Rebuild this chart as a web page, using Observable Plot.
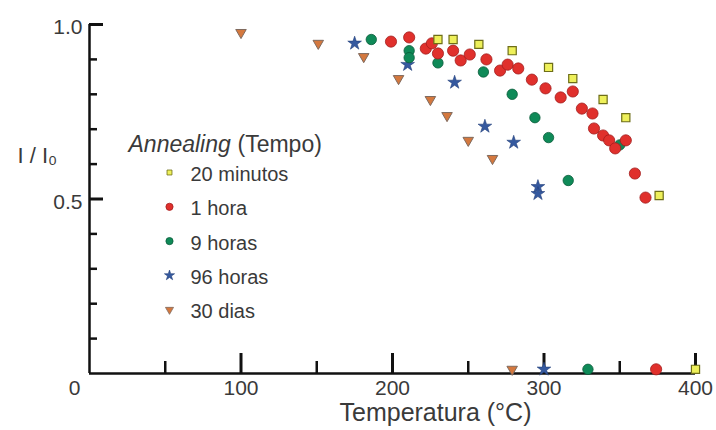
<!DOCTYPE html>
<html>
<head>
<meta charset="utf-8">
<script src="https://cdn.jsdelivr.net/npm/d3@7"></script>
<script src="https://cdn.jsdelivr.net/npm/@observablehq/plot@0.6"></script>
<style>
  body { margin: 0; background: #fff; }
  #chart { width: 716px; height: 430px; }
</style>
</head>
<body>
<div id="chart"></div>
<script>
// ---- data ----
const min20Temp = [230, 240, 257, 279, 303, 319, 339, 354, 376, 400];
const min20Ratio = [0.957, 0.957, 0.943, 0.925, 0.877, 0.845, 0.785, 0.733, 0.51, 0.012];

const hora1Temp = [199, 211, 222, 226, 230, 240, 245, 251, 262, 271, 276, 283, 292, 301, 311, 319, 325, 332, 333, 339, 343, 347, 354, 360, 367, 374];
const hora1Ratio = [0.951, 0.963, 0.931, 0.946, 0.917, 0.925, 0.897, 0.914, 0.90, 0.868, 0.885, 0.874, 0.842, 0.817, 0.791, 0.808, 0.759, 0.745, 0.702, 0.682, 0.668, 0.645, 0.668, 0.573, 0.504, 0.012];

const horas9Temp = [186, 211, 211, 230, 260, 279, 294, 303, 316, 329, 350];
const horas9Ratio = [0.957, 0.925, 0.905, 0.89, 0.864, 0.80, 0.733, 0.676, 0.553, 0.012, 0.655];

const horas96Temp = [175, 210, 241, 261, 280, 296, 296, 300];
const horas96Ratio = [0.946, 0.885, 0.834, 0.708, 0.662, 0.535, 0.515, 0.012];

const dias30Temp = [100, 151, 181, 204, 225, 236, 250, 266, 279];
const dias30Ratio = [0.977, 0.946, 0.908, 0.845, 0.785, 0.739, 0.668, 0.616, 0.012];

const legendLabels = ["20 minutos", "1 hora", "9 horas", "96 horas", "30 dias"];
const legendTitleItalic = "Annealing";
const legendTitleRest = "(Tempo)";

const xTickValues = [0, 100, 200, 300, 400];
const xTickLabels = ["0", "100", "200", "300", "400"];
const xMajorTicks = [100, 200, 300, 400];
const xMinorTicks = [50, 150, 250, 350];
const yTickValues = [0.5, 1.0];
const yTickLabels = ["0.5", "1.0"];
const yMajorTicks = [0.5, 1.0];
const yMinorTicks = [0.1, 0.2, 0.3, 0.4, 0.6, 0.7, 0.8, 0.9];
const xTitle = "Temperatura (°C)";
const yTitle = "I / I₀";

// ---- helpers ----
const pts = (t, v) => t.map((x, i) => ({x, y: v[i]}));
const triangleDown = {
  draw(context, size) {
    const s = Math.sqrt(4 * size / Math.sqrt(3));
    const h = s * Math.sqrt(3) / 2;
    context.moveTo(0, 2 * h / 3);
    context.lineTo(-s / 2, -h / 3);
    context.lineTo(s / 2, -h / 3);
    context.closePath();
  }
};

const styles = [
  {data: pts(min20Temp, min20Ratio), symbol: "square", fill: "#eef05a", stroke: "#6e6e18", strokeWidth: 1.2, r: 4.6, lr: 2.8},
  {data: pts(hora1Temp, hora1Ratio), symbol: "circle", fill: "#e0302c", stroke: "#a21d1d", strokeWidth: 0.8, r: 5.6, lr: 3.6},
  {data: pts(horas9Temp, horas9Ratio), symbol: "circle", fill: "#0f8a58", stroke: "#0a5c3a", strokeWidth: 0.8, r: 5.2, lr: 3.6},
  {data: pts(horas96Temp, horas96Ratio), symbol: "star", fill: "#35599f", stroke: "#24407a", strokeWidth: 0.6, r: 4.3, lr: 3.2},
  {data: pts(dias30Temp, dias30Ratio), symbol: triangleDown, fill: "#d4783e", stroke: "#7f6a5e", strokeWidth: 1, r: 3.9, lr: 3.0}
];
const drawOrder = [4, 3, 2, 1, 0];

const font = "'Liberation Sans', Arial, Helvetica, sans-serif";
const textColor = "#3a3a3a";
const frameW = 716 - 89 - 21;
const frameH = 430 - 24 - 57;

const marks = [];
// axis lines
marks.push(Plot.ruleX([0], {stroke: "#111", strokeWidth: 2.5}));
marks.push(Plot.ruleY([0], {stroke: "#111", strokeWidth: 2.5}));
// x ticks (inward)
marks.push(Plot.ruleX(xMajorTicks, {stroke: "#111", strokeWidth: 3, insetTop: frameH - 20}));
marks.push(Plot.ruleX(xMinorTicks, {stroke: "#111", strokeWidth: 2.5, insetTop: frameH - 12}));
// y ticks (inward)
marks.push(Plot.ruleY(yMajorTicks, {stroke: "#111", strokeWidth: 3, insetRight: frameW - 14}));
marks.push(Plot.ruleY(yMinorTicks, {stroke: "#111", strokeWidth: 2.5, insetRight: frameW - 8}));
// tick labels
const xLab = xTickValues.map((v, i) => ({v, label: xTickLabels[i]}));
marks.push(Plot.text(xLab.filter(d => d.v !== 0), {x: "v", text: "label", frameAnchor: "bottom", lineAnchor: "middle", dy: 15, fontSize: 21, fill: textColor}));
marks.push(Plot.text(xLab.filter(d => d.v === 0), {x: "v", text: "label", frameAnchor: "bottom", lineAnchor: "middle", dy: 15, dx: -15, fontSize: 21, fill: textColor}));
const yLab = yTickValues.map((v, i) => ({v, label: yTickLabels[i]}));
marks.push(Plot.text(yLab, {y: "v", text: "label", frameAnchor: "left", textAnchor: "end", lineAnchor: "middle", dx: -7, dy: 3, fontSize: 21, fill: textColor}));
// axis titles
marks.push(Plot.text([xTitle], {text: d => d, frameAnchor: "bottom", textAnchor: "middle", lineAnchor: "middle", dx: 43, dy: 39, fontSize: 25, fill: textColor}));
marks.push(Plot.text([yTitle], {text: d => d, frameAnchor: "left", textAnchor: "start", lineAnchor: "middle", dx: -72, dy: -43, fontSize: 22, fill: textColor}));
// data
for (const k of drawOrder) {
  const s = styles[k];
  marks.push(Plot.dot(s.data, {x: "x", y: "y", symbol: s.symbol, r: s.r, fill: s.fill, stroke: s.stroke, strokeWidth: s.strokeWidth}));
}
// legend
marks.push(Plot.text([legendTitleItalic], {text: d => d, frameAnchor: "top-left", textAnchor: "start", lineAnchor: "middle", dx: 39, dy: 120, fontSize: 23, fontStyle: "italic", fill: textColor}));
marks.push(Plot.text([legendTitleRest], {text: d => d, frameAnchor: "top-left", textAnchor: "start", lineAnchor: "middle", dx: 148, dy: 120, fontSize: 23, fill: textColor}));
legendLabels.forEach((label, i) => {
  const s = styles[i];
  const dy = 148 + i * 34.3;
  marks.push(Plot.dot([label], {frameAnchor: "top-left", dx: 80, dy, symbol: s.symbol, r: s.lr, fill: s.fill, stroke: s.stroke, strokeWidth: Math.min(s.strokeWidth, 0.8)}));
  marks.push(Plot.text([label], {text: d => d, frameAnchor: "top-left", textAnchor: "start", lineAnchor: "middle", dx: 101, dy: dy + 2, fontSize: 20, fill: textColor}));
});

const chart = Plot.plot({
  width: 716,
  height: 430,
  marginLeft: 89,
  marginRight: 21,
  marginTop: 24,
  marginBottom: 57,
  x: {domain: [0, 400], axis: null},
  y: {domain: [0, 1], axis: null},
  style: {fontFamily: font, background: "#fff", overflow: "visible"},
  marks
});
document.getElementById("chart").appendChild(chart);
</script>
</body>
</html>
